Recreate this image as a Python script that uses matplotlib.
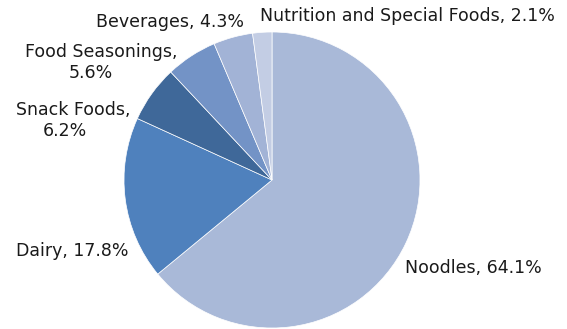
import numpy as np
import matplotlib.pyplot as plt

# share of sales by segment (%)
segments = ['Noodles', 'Dairy', 'Snack Foods', 'Food Seasonings',
            'Beverages', 'Nutrition and Special Foods']
shares = [64.1, 17.8, 6.2, 5.6, 4.3, 2.1]
colors = ['#A9B9D8', '#4F81BD', '#3F6899', '#7393C6', '#A2B3D6', '#C3CDE4']

fig = plt.figure(figsize=(5.67, 3.29), dpi=100)
ax = fig.add_axes([0, 0, 1, 1])

ax.pie(shares, colors=colors, startangle=90, counterclock=False,
       radius=1.0, center=(0, 0),
       wedgeprops=dict(edgecolor='white', linewidth=0.5))

# pixel -> data (pie radius 148 px, centre at 272,180)
def px(x, y):
    return (x - 272) / 148, (180 - y) / 148

txt = dict(va='center', fontsize=12.5, color='#1a1a1a')

# one-line labels
ax.text(*px(405, 268), f'{segments[0]}, {shares[0]}%', ha='left', **txt)
ax.text(*px(128, 251), f'{segments[1]}, {shares[1]}%', ha='right', **txt)
ax.text(*px(170, 22), f'{segments[4]}, {shares[4]}%', ha='center', **txt)
ax.text(*px(407, 16), f'{segments[5]}, {shares[5]}%', ha='center', **txt)

# two-line labels
ax.text(*px(73, 110), f'{segments[2]},', ha='center', **txt)
ax.text(*px(65, 131), f'{shares[2]}%', ha='center', **txt)
ax.text(*px(101, 52), f'{segments[3]},', ha='center', **txt)
ax.text(*px(91, 73), f'{shares[3]}%', ha='center', **txt)

ax.set_xlim(-272 / 148, (567 - 272) / 148)
ax.set_ylim((180 - 329) / 148, 180 / 148)
ax.axis('off')

fig.savefig('out.png', dpi=100)
